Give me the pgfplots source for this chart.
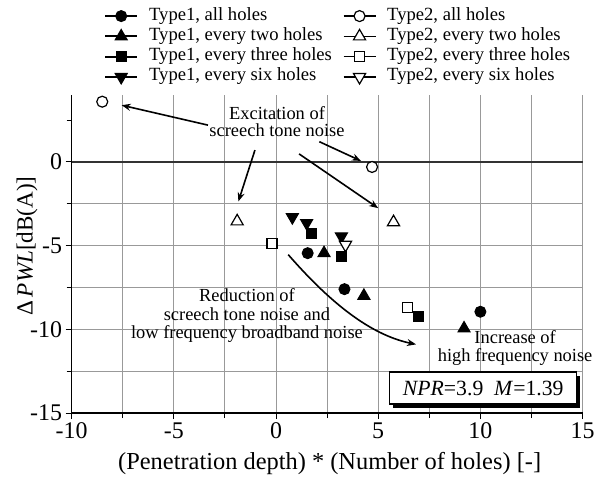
\documentclass[border=0pt]{standalone}
\usepackage{fontspec}
\setmainfont{Liberation Serif}
\usepackage{pgfplots}
\pgfplotsset{compat=1.18}
\usetikzlibrary{arrows.meta,shadows}
\pgfplotsset{
 t1all/.style={mark=*, mark size=5.5bp, mark options={solid, fill=black, draw=black, line width=1bp}},
 t1two/.style={mark=triangle*, mark size=7bp, mark options={solid, fill=black, draw=black, line width=1bp}},
 t1three/.style={mark=square*, mark size=5bp, mark options={solid, fill=black, draw=black, line width=1bp}},
 t1six/.style={mark=triangle*, mark size=7bp, mark options={solid, fill=black, draw=black, line width=1bp, rotate=180}},
 t2all/.style={mark=*, mark size=5.5bp, mark options={solid, fill=white, draw=black, line width=1.2bp}},
 t2two/.style={mark=triangle*, mark size=7bp, mark options={solid, fill=white, draw=black, line width=1.2bp}},
 t2three/.style={mark=square*, mark size=5bp, mark options={solid, fill=white, draw=black, line width=1.2bp}},
 t2six/.style={mark=triangle*, mark size=7bp, mark options={solid, fill=white, draw=black, line width=1.2bp, rotate=180}},
}
\begin{document}
\begin{tikzpicture}
\useasboundingbox (-71.6bp,-69bp) rectangle (529.4bp,413bp);
\begin{axis}[
 scale only axis, width=511bp, height=318bp,
 xmin=-10, xmax=15, ymin=-15, ymax=4,
 clip=false,
 xtick={-10,-5,0,5,10,15}, ytick={-15,-10,-5,0},
 minor xtick={-7.5,-2.5,2.5,7.5,12.5}, minor ytick={-12.5,-7.5,-2.5},
 extra y ticks={2.5}, extra y tick labels={}, extra y tick style={grid=none, major tick length=5bp},
 grid=both, grid style={black!40, line width=0.9bp},
 axis lines=left, axis line style={-, line width=1.6bp, black},
 tick align=outside, major tick length=6bp, minor tick length=5bp,
 tick style={black, line width=1bp},
 ticklabel style={font=\fontsize{24}{24}\selectfont},
 /pgf/number format/assume math mode=true,
 xlabel={(Penetration depth) * (Number of holes) [-]},
 ylabel={Δ\,\textit{PWL}[dB(A)]},
 xlabel style={font=\fontsize{24.5}{24.5}\selectfont, at={(axis description cs:0.505,-0.16)}, anchor=center},
 ylabel style={font=\fontsize{23.2}{23.2}\selectfont, at={(axis description cs:-0.087,0.525)}, anchor=center},
 legend columns=2,
 legend cell align=left,
 legend style={at={(axis description cs:0.064,1.278)}, anchor=north west, draw=none, fill=none,
   inner sep=0pt, outer sep=0pt, column sep=10bp, row sep=1.3bp,
   font=\fontsize{18.7}{18.7}\selectfont,
   nodes={inner sep=1bp, text height=12.5bp, text depth=4.5bp}},
 legend image code/.code={\draw[mark repeat=2,mark phase=2,#1] plot coordinates {(0bp,0bp)(16bp,0bp)(32bp,0bp)};},
]
% legend entries
\addlegendimage{black, line width=1.8bp, t1all}
\addlegendentry{Type1, all holes}
\addlegendimage{black, line width=1.2bp, t2all}
\addlegendentry{Type2, all holes}
\addlegendimage{black, line width=1.8bp, t1two}
\addlegendentry{Type1, every two holes}
\addlegendimage{black, line width=1.2bp, t2two}
\addlegendentry{Type2, every two holes}
\addlegendimage{black, line width=1.8bp, t1three}
\addlegendentry{Type1, every three holes}
\addlegendimage{black, line width=1.2bp, t2three}
\addlegendentry{Type2, every three holes}
\addlegendimage{black, line width=1.8bp, t1six}
\addlegendentry{Type1, every six holes}
\addlegendimage{black, line width=1.2bp, t2six}
\addlegendentry{Type2, every six holes}

% darker zero line
\draw[black!80, line width=1.4bp] (axis cs:-10,0) -- (axis cs:15,0);

% Type2 data
\addplot[black, only marks, t2all, forget plot] coordinates {(-8.5,3.6) (4.7,-0.3)};
\addplot[black, only marks, t2two, forget plot] coordinates {(-1.9,-3.55) (5.75,-3.6)};
\addplot[black, only marks, t2three, forget plot] coordinates {(-0.2,-4.85) (6.45,-8.7)};
% Type1 data
\addplot[black, only marks, t1all, forget plot] coordinates {(1.55,-5.45) (3.35,-7.6) (10.0,-8.95)};
\addplot[black, only marks, t1two, forget plot] coordinates {(2.35,-5.45) (4.3,-8.0) (9.2,-9.95)};
\addplot[black, only marks, t1three, forget plot] coordinates {(1.75,-4.3) (3.2,-5.65) (6.95,-9.25)};
\addplot[black, only marks, t1six, forget plot] coordinates {(0.8,-3.3) (1.5,-3.65) (3.2,-4.45)};
\addplot[black, only marks, t2six, forget plot] coordinates {(3.4,-4.95)};

% annotations
\node[align=center, font=\fontsize{18.5}{17}\selectfont, inner sep=0pt] at (axis cs:0.05,2.4) {Excitation of\\screech tone noise};
\draw[-{Stealth[length=9bp,width=7bp]}, line width=1.6bp] (axis cs:-3.33,2.2) -- (axis cs:-7.55,3.39);
\draw[-{Stealth[length=9bp,width=7bp]}, line width=1.6bp] (axis cs:-1.03,0.71) -- (axis cs:-1.84,-2.36);
\draw[-{Stealth[length=9bp,width=7bp]}, line width=1.6bp] (axis cs:2.12,1.21) -- (axis cs:4.16,0.06);
\draw[-{Stealth[length=9bp,width=7bp]}, line width=1.6bp] (axis cs:1.13,0.48) -- (axis cs:5.0,-2.76);
\draw[-{Stealth[length=9bp,width=7bp]}, line width=1.6bp] (axis cs:0.6,-5.54) .. controls (axis cs:2.5,-8.2) and (axis cs:4.5,-10.3) .. (axis cs:6.85,-10.9);
\node[align=center, font=\fontsize{18.5}{18.5}\selectfont, inner sep=0pt] at (axis cs:-1.42,-9.2) {Reduction of\\screech tone noise and\\low frequency broadband noise};
\node[align=center, font=\fontsize{18.5}{18.5}\selectfont, inner sep=0pt] at (axis cs:11.7,-11.1) {Increase of\\high frequency noise};
\node[draw, line width=1.3bp, fill=white, minimum width=187bp, minimum height=32bp, inner sep=0pt,
  drop shadow={shadow xshift=3.5bp, shadow yshift=-3.5bp, fill=black, opacity=1},
  font=\fontsize{21.8}{21.8}\selectfont] at (axis cs:10.14,-13.51) {\textit{NPR}=3.9\ \ \textit{M}=1.39};
\end{axis}
\end{tikzpicture}
\end{document}
